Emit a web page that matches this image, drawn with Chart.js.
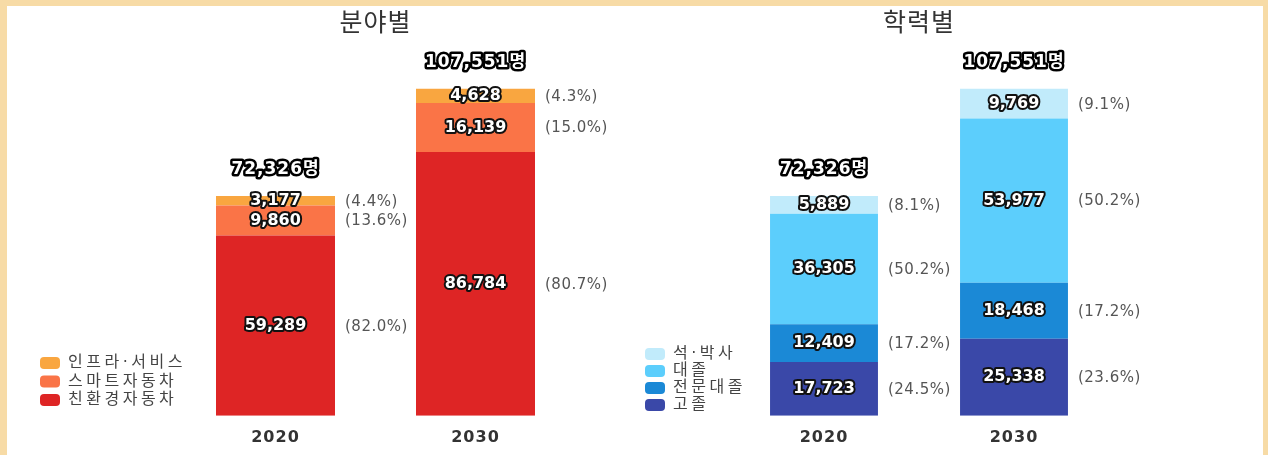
<!DOCTYPE html>
<html lang="ko">
<head>
<meta charset="UTF-8">
<title>분야별 / 학력별</title>
<script src="https://cdn.jsdelivr.net/npm/chart.js"></script>
<style>
    body { margin: 0; background: #fff; overflow: hidden; }
    .frame {
        position: absolute; left: 0; top: 0; width: 1268px; height: 455px;
        box-sizing: border-box; background: #fff;
        border-left: 7px solid #f7dba6; border-top: 6px solid #f7dba6; border-right: 5px solid #f7dba6;
    }
    .box { position: absolute; top: 0; width: 634px; height: 461px; }
</style>
</head>
<body>
<div class="frame"></div>
<div class="box" style="left:0"><canvas id="chartField"></canvas></div>
<div class="box" style="left:634px"><canvas id="chartEdu"></canvas></div>

<script>
    // 공통 데이터
    const years = ['2020', '2030'];
    const totals = [72326, 107551];

    // 분야별
    const fieldNames = ['친환경자동차', '스마트자동차', '인프라·서비스'];
    const ecoCar = [59289, 86784];
    const smartCar = [9860, 16139];
    const infraService = [3177, 4628];
    const fieldColors = ['#de2525', '#fa7447', '#f9a640'];

    // 학력별
    const eduNames = ['고졸', '전문대졸', '대졸', '석·박사'];
    const highSchool = [17723, 25338];
    const college = [12409, 18468];
    const university = [36305, 53977];
    const graduate = [5889, 9769];
    const eduColors = ['#3a48a8', '#1b89d6', '#5ccefc', '#c1ebfb'];

    Chart.defaults.font.family = "'DejaVu Sans', 'Noto Sans CJK KR', sans-serif";
    Chart.defaults.animation = false;

    const spacing = {
        id: 'spacing',
        beforeDraw(chart) { chart.ctx.letterSpacing = '1px'; }
    };

    // 범례 위치를 그림에 맞게 옮김 (자간도 넓게)
    const legendSpot = {
        id: 'legendSpot',
        afterLayout(chart, args, opts) {
            const lg = chart.legend;
            lg.left = opts.x;
            lg.width = 200;
            lg.right = opts.x + 200;
            lg.top = opts.y;
            lg.bottom = opts.y + 200;
            lg.height = 200;
            if (!lg._spaced) {
                const orig = lg.draw.bind(lg);
                lg.draw = function () {
                    const c = this.ctx;
                    const old = c.letterSpacing;
                    c.letterSpacing = '3.5px';
                    orig();
                    c.letterSpacing = old;
                };
                lg._spaced = true;
            }
        }
    };

    // 막대 안 수치, 옆 비율, 위 합계
    const barLabels = {
        id: 'barLabels',
        afterDatasetsDraw(chart, args, opts) {
            const ctx = chart.ctx;
            const tot = opts.totals;
            ctx.save();
            ctx.textBaseline = 'middle';
            ctx.lineJoin = 'round';
            chart.data.datasets.forEach((ds, i) => {
                const meta = chart.getDatasetMeta(i);
                meta.data.forEach((bar, j) => {
                    const v = ds.data[j];
                    const cy = (bar.y + bar.base) / 2;
                    const s = v.toLocaleString('en-US');
                    ctx.letterSpacing = '0px';
                    ctx.font = "bold 16px 'DejaVu Sans'";
                    ctx.textAlign = 'center';
                    ctx.lineWidth = 4;
                    ctx.strokeStyle = '#111';
                    ctx.strokeText(s, bar.x, cy);
                    ctx.fillStyle = '#fff';
                    ctx.fillText(s, bar.x, cy);

                    ctx.letterSpacing = '0.5px';
                    ctx.font = "15px 'DejaVu Sans'";
                    ctx.textAlign = 'left';
                    ctx.fillStyle = '#555';
                    ctx.fillText('(' + (v / tot[j] * 100).toFixed(1) + '%)', bar.x + bar.width / 2 + 10, cy + 1);
                });
            });
            const topMeta = chart.getDatasetMeta(chart.data.datasets.length - 1);
            topMeta.data.forEach((bar, j) => {
                const s = tot[j].toLocaleString('en-US') + '명';
                ctx.letterSpacing = '1px';
                ctx.font = "bold 17px 'DejaVu Sans', 'Noto Sans CJK KR'";
                ctx.textAlign = 'center';
                ctx.lineWidth = 5;
                ctx.strokeStyle = '#000';
                ctx.strokeText(s, bar.x, bar.y - 26);
                ctx.fillStyle = '#fff';
                ctx.fillText(s, bar.x, bar.y - 26);
            });
            ctx.restore();
        }
    };

    function makeChart(id, title, names, series, colors, barPct, pad, legendPos, legendGap) {
        const datasets = series.map((d, i) => ({
            label: names[i],
            data: d,
            backgroundColor: colors[i],
            borderWidth: 0,
            barPercentage: barPct,
            categoryPercentage: 1
        }));
        return new Chart(document.getElementById(id), {
            type: 'bar',
            data: { labels: years, datasets: datasets },
            plugins: [spacing, legendSpot, barLabels],
            options: {
                responsive: true,
                maintainAspectRatio: false,
                layout: { padding: { left: pad.left, right: pad.right, top: 0, bottom: 2 } },
                plugins: {
                    title: {
                        display: true,
                        text: title,
                        fullSize: false,
                        color: '#333',
                        font: { size: 25, weight: 'normal' },
                        padding: { top: 9, bottom: 12 }
                    },
                    legend: {
                        position: 'chartArea',
                        align: 'start',
                        reverse: true,
                        labels: {
                            boxWidth: 20,
                            boxHeight: 12,
                            useBorderRadius: true,
                            borderRadius: 4,
                            padding: legendGap,
                            color: '#444',
                            font: { size: 16 }
                        }
                    },
                    legendSpot: legendPos,
                    barLabels: { totals: totals },
                    tooltip: { enabled: false }
                },
                scales: {
                    x: {
                        stacked: true,
                        grid: { display: false, drawTicks: false },
                        border: { display: false },
                        ticks: { color: '#333', padding: 12, font: { size: 16, weight: 'bold' } }
                    },
                    y: {
                        stacked: true,
                        display: false,
                        min: 0,
                        max: 120000
                    }
                }
            }
        });
    }

    makeChart('chartField', '분야별', fieldNames, [ecoCar, smartCar, infraService], fieldColors,
        0.595, { left: 175.5, right: 58.5 }, { x: 37.5, y: 352.5 }, 2.5);

    makeChart('chartEdu', '학력별', eduNames, [highSchool, college, university, graduate], eduColors,
        0.568, { left: 95, right: 159 }, { x: 10, y: 345 }, 1);
</script>
</body>
</html>
